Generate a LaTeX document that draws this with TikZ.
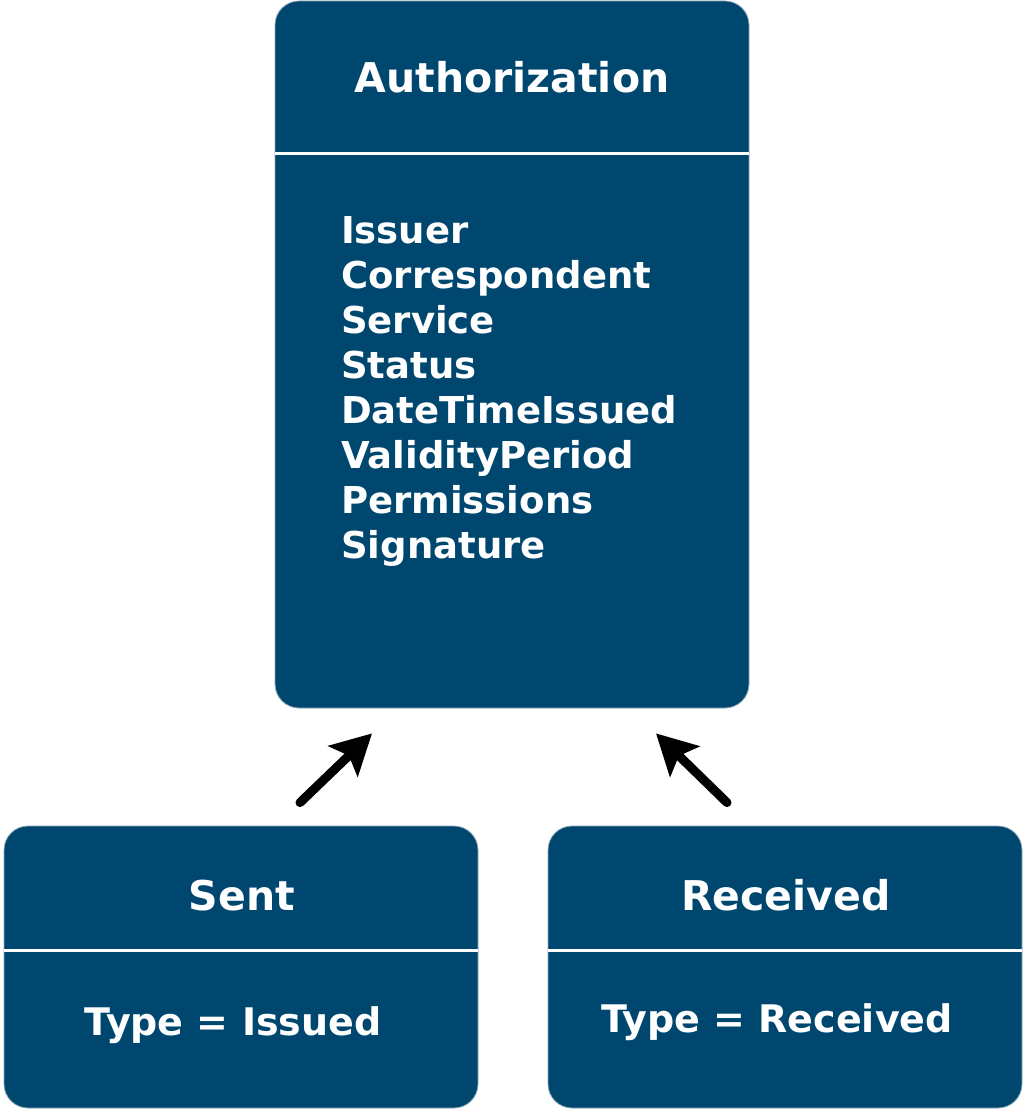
\documentclass[tikz,border=0pt]{standalone}
\usepackage{fontspec}
\setmainfont{DejaVu Sans}
\usetikzlibrary{arrows.meta,calc}
\definecolor{boxblue}{HTML}{00476F}
\definecolor{boxedge}{HTML}{8FAABB}
\tikzset{
  umlbox/.style={rectangle, rounded corners=24pt, fill=boxblue, draw=boxedge, line width=0.8pt,
    minimum width=474pt, inner sep=0pt},
  sepline/.style={white, line width=3pt},
  titletext/.style={text=white, font=\fontsize{41}{49}\selectfont\bfseries, inner sep=0pt},
  attrtext/.style={text=white, font=\fontsize{37}{45}\selectfont\bfseries, inner sep=0pt, anchor=base west},
  bodytext/.style={text=white, font=\fontsize{38}{45}\selectfont\bfseries, inner sep=0pt, anchor=base},
  inherit/.style={line width=9pt, line cap=round, -{Stealth[length=40pt, width=42pt, inset=8pt]}}
}
\begin{document}
\begin{tikzpicture}[x=1pt, y=-1pt]
\useasboundingbox (0,0) rectangle (1026,1110);
% boxes
\node[umlbox, minimum height=707pt] (auth) at (512,354.5) {};
\node[umlbox, minimum height=282pt] (sent) at (241,967) {};
\node[umlbox, minimum height=282pt] (recv) at (785,967) {};
% separators
\draw[sepline] (auth.west |- 0,154) -- (auth.east |- 0,154);
\draw[sepline] (sent.west |- 0,950) -- (sent.east |- 0,950);
\draw[sepline] (recv.west |- 0,950) -- (recv.east |- 0,950);
% titles
\node[titletext, anchor=base] (authT) at (512,93) {Authorization};
\node[titletext, anchor=base] (sentT) at (242,910) {Sent};
\node[titletext, anchor=base] (recvT) at (786,910) {Received};
% attributes
\node[attrtext] (a1) at (341,243.5) {Issuer};
\node[attrtext] (a2) at (341,288.5) {Correspondent};
\node[attrtext] (a3) at (341,333.5) {Service};
\node[attrtext] (a4) at (341,378.5) {Status};
\node[attrtext] (a5) at (341,423.5) {DateTimeIssued};
\node[attrtext] (a6) at (341,468.5) {ValidityPeriod};
\node[attrtext] (a7) at (341,513.5) {Permissions};
\node[attrtext] (a8) at (341,558.5) {Signature};
% bodies
\node[bodytext] (sentB) at (233,1035) {Type = Issued};
\node[bodytext] (recvB) at (777,1032) {Type = Received};
% arrows
\coordinate (s1) at ($(sent.north)+(59,-23)$);
\coordinate (s2) at ($(auth.south)+(-140,25)$);
\coordinate (r1) at ($(recv.north)+(-58,-23)$);
\coordinate (r2) at ($(auth.south)+(144,25)$);
\draw[inherit] (s1) -- (s2);
\draw[inherit] (r1) -- (r2);
\end{tikzpicture}
\end{document}
